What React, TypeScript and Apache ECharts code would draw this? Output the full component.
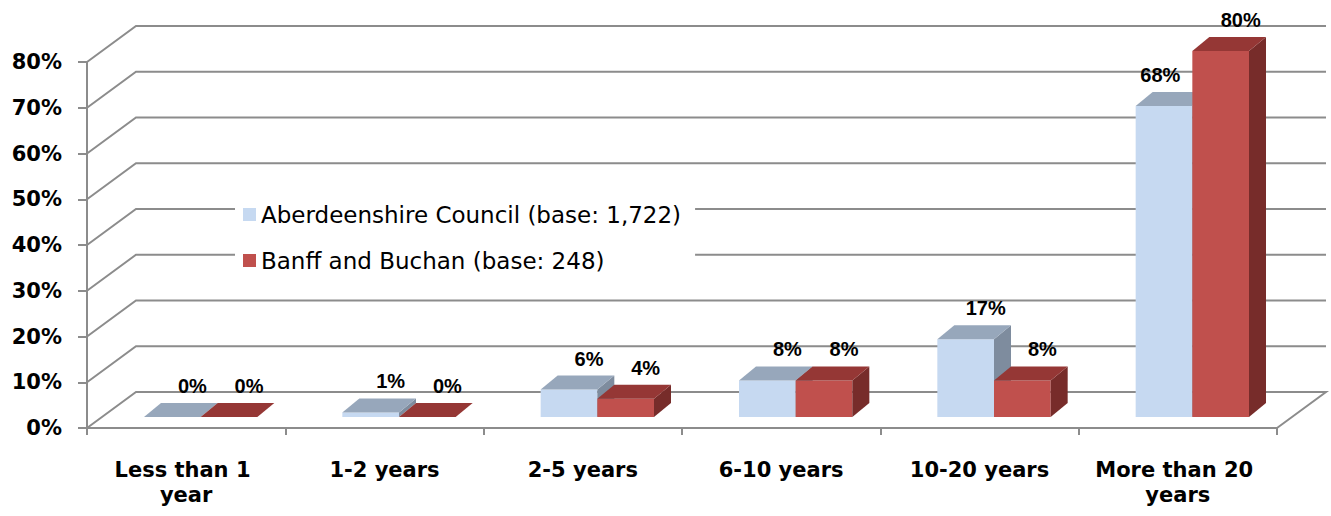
import React, { useEffect, useRef } from 'react';
import * as echarts from 'echarts';

const categories = ['Less than 1 year', '1-2 years', '2-5 years', '6-10 years', '10-20 years', 'More than 20 years'];
const aberdeenshire = [0, 1, 6, 8, 17, 68];
const banffBuchan = [0, 0, 4, 8, 8, 80];
const seriesNames = ['Aberdeenshire Council (base: 1,722)', 'Banff and Buchan (base: 248)'];
const yTicks = [0, 10, 20, 30, 40, 50, 60, 70, 80];

const WALL_DX = 49;
const WALL_DY = -36;
const BAR_FX = 14.5;
const BAR_FY = -11;
const BAR_DX = 17;
const BAR_DY = -14;
const GRID_COLOR = '#8c8c8c';

const palettes = [
  { front: '#C6D9F1', top: '#97A7BB', side: '#7E8C9E' },
  { front: '#C0504D', top: '#953735', side: '#772C2A' },
];

const allValues = [aberdeenshire, banffBuchan];

function makeBarRenderer(s: number) {
  return (params: any, api: any) => {
    const cat = api.value(0);
    const val = api.value(1);
    const base = api.coord([cat, 0]);
    const topPt = api.coord([cat, val]);
    const band = api.size([1, 0])[0];
    const barW = band / 3.5;
    const x = base[0] + BAR_FX - barW + s * barW;
    const yb = base[1] + BAR_FY;
    const yt = topPt[1] + BAR_FY;
    const p = palettes[s];
    const children: any[] = [];
    if (yb - yt > 0.5) {
      children.push({
        type: 'rect',
        shape: { x, y: yt, width: barW, height: yb - yt },
        style: { fill: p.front },
      });
    }
    children.push({
      type: 'polygon',
      shape: {
        points: [
          [x + barW, yt],
          [x + barW + BAR_DX, yt + BAR_DY],
          [x + barW + BAR_DX, yb + BAR_DY],
          [x + barW, yb],
        ],
      },
      style: { fill: p.side },
    });
    children.push({
      type: 'polygon',
      shape: {
        points: [
          [x, yt],
          [x + barW, yt],
          [x + barW + BAR_DX, yt + BAR_DY],
          [x + BAR_DX, yt + BAR_DY],
        ],
      },
      style: { fill: p.top },
    });
    const other = allValues[1 - s][cat];
    let lx = x + barW / 2 + BAR_DX + 3;
    let align = 'center';
    if (s === 0 && other > val + 5) {
      lx = x + barW - 12;
      align = 'right';
    }
    children.push({
      type: 'text',
      x: lx,
      y: yt + BAR_DY - 17,
      z2: 10,
      style: {
        text: Math.round(val) + '%',
        fill: '#000',
        fontFamily: 'Liberation Sans, Arial, sans-serif',
        fontWeight: 'bold',
        fontSize: 20,
        align,
        verticalAlign: 'middle',
      },
    });
    return { type: 'group', children };
  };
}

export default function App() {
  const ref = useRef<HTMLDivElement>(null);
  useEffect(() => {
    if (!ref.current) return;
    const chart = echarts.init(ref.current, null, { renderer: 'svg' });
    const option: any = {
      animation: false,
      backgroundColor: '#fff',
      grid: { left: 87, right: 54, top: 62, bottom: 88, containLabel: false },
      legend: {
        data: seriesNames,
        orient: 'vertical',
        left: 235,
        top: 195,
        itemWidth: 13,
        itemHeight: 13,
        itemGap: 23,
        icon: 'rect',
        selectedMode: false,
        backgroundColor: '#fff',
        padding: [8, 14, 8, 8],
        textStyle: { fontFamily: 'DejaVu Sans', fontSize: 23, color: '#000' },
      },
      xAxis: {
        type: 'category',
        data: categories,
        axisLine: { show: true, lineStyle: { color: GRID_COLOR, width: 2 } },
        axisTick: { show: true, length: 7, lineStyle: { color: GRID_COLOR, width: 2 } },
        splitLine: { show: false },
        axisLabel: {
          margin: 29,
          fontFamily: 'DejaVu Sans',
          fontWeight: 'bold',
          fontSize: 21,
          lineHeight: 25,
          color: '#000',
          width: 175,
          overflow: 'break',
          interval: 0,
        },
      },
      yAxis: {
        type: 'value',
        min: 0,
        max: 80,
        interval: 10,
        axisLine: { show: true, lineStyle: { color: GRID_COLOR, width: 2 } },
        axisTick: { show: true, length: 9, lineStyle: { color: GRID_COLOR, width: 2 } },
        splitLine: { show: false },
        axisLabel: {
          formatter: '{value}%',
          margin: 25,
          fontFamily: 'DejaVu Sans',
          fontWeight: 'bold',
          fontSize: 21,
          color: '#000',
        },
      },
      series: [
        {
          type: 'custom',
          name: 'walls',
          silent: true,
          data: yTicks.map((v) => [0, v]),
          encode: { x: 0, y: 1 },
          renderItem: (params: any, api: any) => {
            const cs = params.coordSys;
            const v = api.value(1);
            const y = api.coord([0, v])[1];
            const x0 = cs.x;
            const x1 = cs.x + cs.width;
            const pts =
              v === 0
                ? [[x0, y], [x0 + WALL_DX, y + WALL_DY], [x1 + WALL_DX, y + WALL_DY], [x1, y]]
                : [[x0, y], [x0 + WALL_DX, y + WALL_DY], [x1 + WALL_DX, y + WALL_DY]];
            return {
              type: 'polyline',
              shape: { points: pts },
              style: { stroke: GRID_COLOR, lineWidth: 2, fill: null },
            };
          },
        },
        ...[0, 1].map((s) => ({
          type: 'custom',
          name: seriesNames[s],
          itemStyle: { color: palettes[s].front },
          data: categories.map((_, i) => [i, allValues[s][i]]),
          encode: { x: 0, y: 1 },
          renderItem: makeBarRenderer(s),
        })),
      ],
    };
    chart.setOption(option);
    return () => chart.dispose();
  }, []);
  return (
    <div
      ref={ref}
      style={{ position: 'fixed', left: 0, top: 0, width: 1331, height: 516, background: '#fff' }}
    />
  );
}
